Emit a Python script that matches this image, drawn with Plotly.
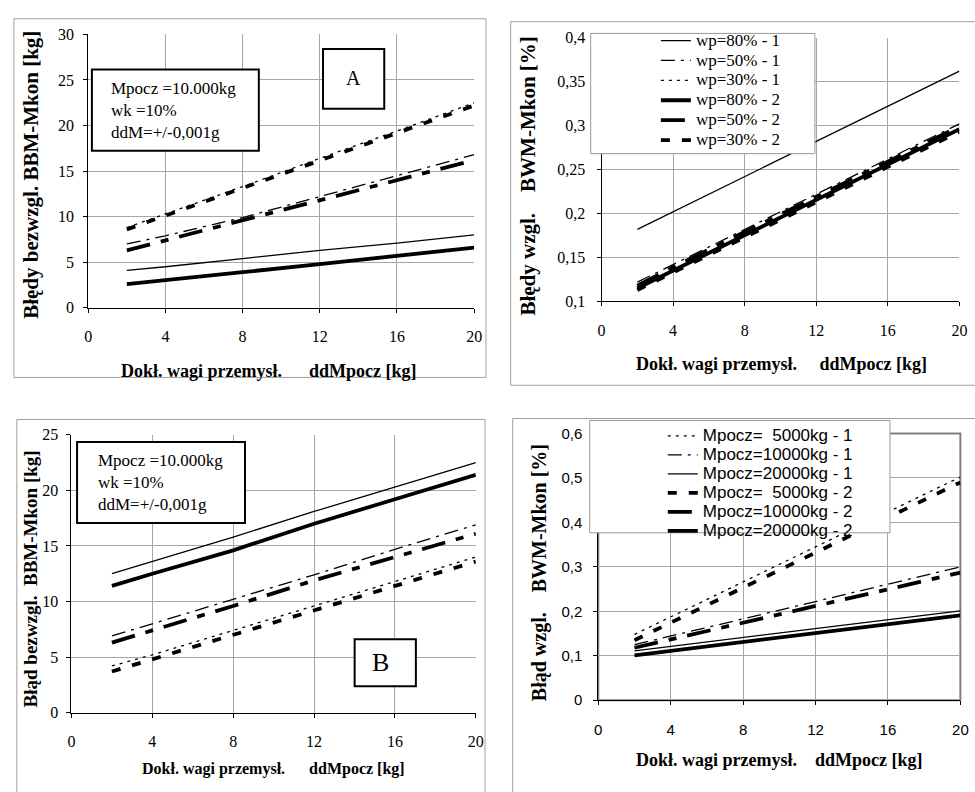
import plotly.graph_objects as go

W, H = 975, 792

# ---------------- data ----------------
X = [2, 4, 8, 12, 16, 20]

# Panel A - absolute errors [kg], wp series
A_names = ["wp=80% - 1", "wp=50% - 1", "wp=30% - 1", "wp=80% - 2", "wp=50% - 2", "wp=30% - 2"]
A_wp80_1 = [4.1, 4.5, 5.4, 6.3, 7.1, 8.0]
A_wp50_1 = [7.0, 7.9, 9.9, 12.2, 14.5, 16.8]
A_wp30_1 = [8.8, 10.3, 13.3, 16.4, 19.4, 22.5]
A_wp80_2 = [2.6, 3.0, 3.9, 4.8, 5.7, 6.6]
A_wp50_2 = [6.3, 7.4, 9.6, 11.9, 14.1, 16.2]
A_wp30_2 = [8.6, 10.1, 13.1, 16.2, 19.2, 22.2]

# Panel C - relative errors [%], wp series
C_names = ["wp=80% - 1", "wp=50% - 1", "wp=30% - 1", "wp=80% - 2", "wp=50% - 2", "wp=30% - 2"]
C_wp80_1 = [0.182, 0.202, 0.242, 0.282, 0.322, 0.362]
C_wp50_1 = [0.122, 0.142, 0.182, 0.222, 0.262, 0.302]
C_wp30_1 = [0.116, 0.136, 0.176, 0.216, 0.256, 0.296]
C_wp80_2 = [0.115, 0.135, 0.175, 0.215, 0.255, 0.296]
C_wp50_2 = [0.118, 0.139, 0.179, 0.219, 0.259, 0.299]
C_wp30_2 = [0.113, 0.133, 0.173, 0.213, 0.253, 0.293]

# Panel B - absolute errors [kg], Mpocz series
B_names = ["Mpocz=  5000kg - 1", "Mpocz=10000kg - 1", "Mpocz=20000kg - 1",
           "Mpocz=  5000kg - 2", "Mpocz=10000kg - 2", "Mpocz=20000kg - 2"]
B_m5_1 = [4.2, 5.2, 7.4, 9.6, 11.8, 14.0]
B_m10_1 = [6.9, 8.0, 10.2, 12.4, 14.7, 16.9]
B_m20_1 = [12.5, 13.6, 15.8, 18.1, 20.3, 22.5]
B_m5_2 = [3.7, 4.8, 7.0, 9.2, 11.4, 13.6]
B_m10_2 = [6.3, 7.4, 9.6, 11.9, 14.0, 16.1]
B_m20_2 = [11.4, 12.5, 14.6, 17.0, 19.2, 21.4]

# Panel D - relative errors [%], Mpocz series
D_names = ["Mpocz=  5000kg - 1", "Mpocz=10000kg - 1", "Mpocz=20000kg - 1",
           "Mpocz=  5000kg - 2", "Mpocz=10000kg - 2", "Mpocz=20000kg - 2"]
D_m5_1 = [0.148, 0.187, 0.266, 0.345, 0.423, 0.502]
D_m10_1 = [0.125, 0.144, 0.183, 0.222, 0.261, 0.300]
D_m20_1 = [0.111, 0.121, 0.141, 0.161, 0.181, 0.201]
D_m5_2 = [0.135, 0.174, 0.253, 0.332, 0.411, 0.490]
D_m10_2 = [0.118, 0.137, 0.174, 0.212, 0.250, 0.287]
D_m20_2 = [0.101, 0.111, 0.131, 0.151, 0.171, 0.191]

# Tick labels
X_TICKS = [0, 4, 8, 12, 16, 20]
X_TICKTEXT = ["0", "4", "8", "12", "16", "20"]
A_YTICKS = [0, 5, 10, 15, 20, 25, 30]
A_YTICKTEXT = ["0", "5", "10", "15", "20", "25", "30"]
B_YTICKS = [0, 5, 10, 15, 20, 25]
B_YTICKTEXT = ["0", "5", "10", "15", "20", "25"]
C_YTICKS = [0.1, 0.15, 0.2, 0.25, 0.3, 0.35, 0.4]
C_YTICKTEXT = ["0,1", "0,15", "0,2", "0,25", "0,3", "0,35", "0,4"]
D_YTICKS = [0, 0.1, 0.2, 0.3, 0.4, 0.5, 0.6]
D_YTICKTEXT = ["0", "0,1", "0,2", "0,3", "0,4", "0,5", "0,6"]

# ---------------- styles ----------------
SERIF = "Liberation Serif"
SANS = "Liberation Sans"
THIN, THICK = 1.3, 3.8
STYLES = [
    dict(width=THIN, dash="solid"),
    dict(width=THIN, dash="14px,6px,3px,6px"),
    dict(width=THIN, dash="3px,5px"),
    dict(width=THICK, dash="solid"),
    dict(width=THICK, dash="24px,11px,8px,11px"),
    dict(width=THICK, dash="9px,12px"),
]
STYLES_D = [STYLES[2], STYLES[1], STYLES[0], STYLES[5], STYLES[4], STYLES[3]]


def px(x):
    return x / W


def py(y):
    return 1 - y / H


fig = go.Figure()

panels = [
    ("x", "y", A_names, [A_wp80_1, A_wp50_1, A_wp30_1, A_wp80_2, A_wp50_2, A_wp30_2], STYLES, None, None),
    ("x2", "y2", C_names, [C_wp80_1, C_wp50_1, C_wp30_1, C_wp80_2, C_wp50_2, C_wp30_2], STYLES, "legend", 17),
    ("x3", "y3", B_names, [B_m5_1, B_m10_1, B_m20_1, B_m5_2, B_m10_2, B_m20_2], STYLES_D, None, None),
    ("x4", "y4", D_names, [D_m5_1, D_m10_1, D_m20_1, D_m5_2, D_m10_2, D_m20_2], STYLES_D, "legend2", 17),
]
for xa, ya, names, series, styles, leg, fs in panels:
    for name, vals, st in zip(names, series, styles):
        label = name.replace("  ", "\u00a0\u00a0")
        kw = dict(showlegend=False)
        if leg:
            kw = dict(showlegend=True, legend=leg,
                      name='<span style="font-size:%dpx">%s</span>' % (fs, label))
        fig.add_trace(go.Scatter(x=X, y=vals, mode="lines", xaxis=xa, yaxis=ya,
                                 line=dict(color="black", **st), **kw))


def axis(domain, rng, tickvals, ticktext, font, size, standoff, anchor):
    return dict(domain=domain, range=rng, tickvals=tickvals, ticktext=ticktext,
                tickfont=dict(family=font, size=size, color="black"),
                showgrid=True, gridcolor="#a6a6a6", gridwidth=1,
                showline=True, linecolor="black", linewidth=1,
                ticks="outside", ticklen=4, tickcolor="black",
                zeroline=False, ticklabelstandoff=standoff, anchor=anchor,
                ticklabeloverflow="allow", fixedrange=True)


fig.update_layout(
    width=W, height=H, margin=dict(l=0, r=0, t=0, b=0),
    paper_bgcolor="white", plot_bgcolor="white",
    xaxis=axis([px(85.3), px(476)], [0, 20], X_TICKS, X_TICKTEXT, SERIF, 16, 10, "y"),
    yaxis=axis([py(305.7), py(26)], [0, 30], A_YTICKS, A_YTICKTEXT, SERIF, 16, 6, "x"),
    xaxis2=axis([px(605), px(967.3)], [0, 20], X_TICKS, X_TICKTEXT, SERIF, 16, 10, "y2"),
    yaxis2=axis([py(299.3), py(29.3)], [0.1, 0.4], C_YTICKS, C_YTICKTEXT, SERIF, 16, 8, "x2"),
    xaxis3=axis([px(68.3), px(477.7)], [0, 20], X_TICKS, X_TICKTEXT, SERIF, 16, 10, "y3"),
    yaxis3=axis([py(720), py(435.7)], [0, 25], B_YTICKS, B_YTICKTEXT, SERIF, 16, 5, "x3"),
    xaxis4=axis([px(601.7), px(968.3)], [0, 20], X_TICKS, X_TICKTEXT, SANS, 15, 12, "y4"),
    yaxis4=axis([py(707.3), py(434.3)], [0, 0.6], D_YTICKS, D_YTICKTEXT, SANS, 15, 8, "x4"),
    legend=dict(x=px(660), y=py(17), xanchor="left", yanchor="top",
                bgcolor="rgba(0,0,0,0)", borderwidth=0,
                font=dict(family=SERIF, size=13, color="black"), tracegroupgap=0),
    legend2=dict(x=px(667), y=py(422), xanchor="left", yanchor="top",
                 bgcolor="rgba(0,0,0,0)", borderwidth=0,
                 font=dict(family=SANS, size=12, color="black"), tracegroupgap=0),
)

shapes = []
# panel frames
for x0, y0, x1, y1 in [(10, 10, 488, 377), (513, 13, 990, 385), (13, 420, 487, 810), (515, 419, 990, 810)]:
    shapes.append(dict(type="rect", xref="paper", yref="paper", x0=px(x0), x1=px(x1), y0=py(y0), y1=py(y1),
                       line=dict(color="#a0a0a0", width=1), layer="below"))
# panel D plot-area border (top/right edges)
shapes.append(dict(type="rect", xref="paper", yref="paper", x0=px(601.7), x1=px(968.3),
                   y0=py(707.3), y1=py(434.3), line=dict(color="#808080", width=2), layer="below"))
# text boxes and legend boxes
for x0, y0, x1, y1, lw, col in [(89, 62, 258, 145, 2, "black"), (323, 41, 385, 102, 2, "black"),
                                (74, 443, 244, 526, 2, "black"), (355, 645, 417, 693, 2, "black"),
                                (594, 25, 821, 148, 1, "#999999"), (593, 421, 897, 536, 1, "#999999")]:
    shapes.append(dict(type="rect", xref="paper", yref="paper", x0=px(x0), x1=px(x1), y0=py(y0), y1=py(y1),
                       line=dict(color=col, width=lw), fillcolor="white", layer="above"))
fig.update_layout(shapes=shapes)

NB = "\u00a0"
info = "Mpocz =10.000kg<br>wk =10%<br>ddM=+/-0,001g"
ann = [
    dict(text=info, x=px(106), y=py(104), xanchor="left", yanchor="middle", align="left",
         font=dict(family=SERIF, size=17)),
    dict(text="A", x=px(354), y=py(71), xanchor="center", yanchor="middle", font=dict(family=SERIF, size=20)),
    dict(text=info, x=px(92.7), y=py(484.5), xanchor="left", yanchor="middle", align="left",
         font=dict(family=SERIF, size=17)),
    dict(text="B", x=px(381), y=py(669), xanchor="center", yanchor="middle", font=dict(family=SERIF, size=26)),
    # axis titles
    dict(text="<b>Dokł. wagi przemysł." + NB * 6 + "ddMpocz [kg]</b>", x=px(268), y=py(370),
         font=dict(family=SERIF, size=18)),
    dict(text="<b>Dokł. wagi przemysł." + NB * 5 + "ddMpocz [kg]</b>", x=px(787), y=py(363),
         font=dict(family=SERIF, size=18)),
    dict(text="<b>Dokł. wagi przemysł." + NB * 6 + "ddMpocz [kg]</b>", x=px(273), y=py(778),
         font=dict(family=SERIF, size=16)),
    dict(text="<b>Dokł. wagi przemysł." + NB * 4 + "ddMpocz [kg]</b>", x=px(785), y=py(768),
         font=dict(family=SERIF, size=18)),
    dict(text="<b>Błędy bezwzgl. BBM-Mkon [kg]</b>", x=px(27), y=py(170), textangle=-90,
         font=dict(family=SERIF, size=21)),
    dict(text="<b>Błędy wzgl." + NB * 4 + "BWM-Mkon [%]</b>", x=px(531), y=py(171), textangle=-90,
         font=dict(family=SERIF, size=21)),
    dict(text="<b>Błąd bezwzgl." + NB + " BBM-Mkon [kg]</b>", x=px(27), y=py(583), textangle=-90,
         font=dict(family=SERIF, size=19)),
    dict(text="<b>Błąd wzgl." + NB * 4 + "BWM-Mkon [%]</b>", x=px(543), y=py(577), textangle=-90,
         font=dict(family=SERIF, size=20)),
]
for a in ann:
    a.setdefault("xref", "paper")
    a.setdefault("yref", "paper")
    a.setdefault("showarrow", False)
    a.setdefault("xanchor", "center")
    a.setdefault("yanchor", "middle")
    a["font"]["color"] = "black"
fig.update_layout(annotations=ann)

fig.write_html("out.html")
